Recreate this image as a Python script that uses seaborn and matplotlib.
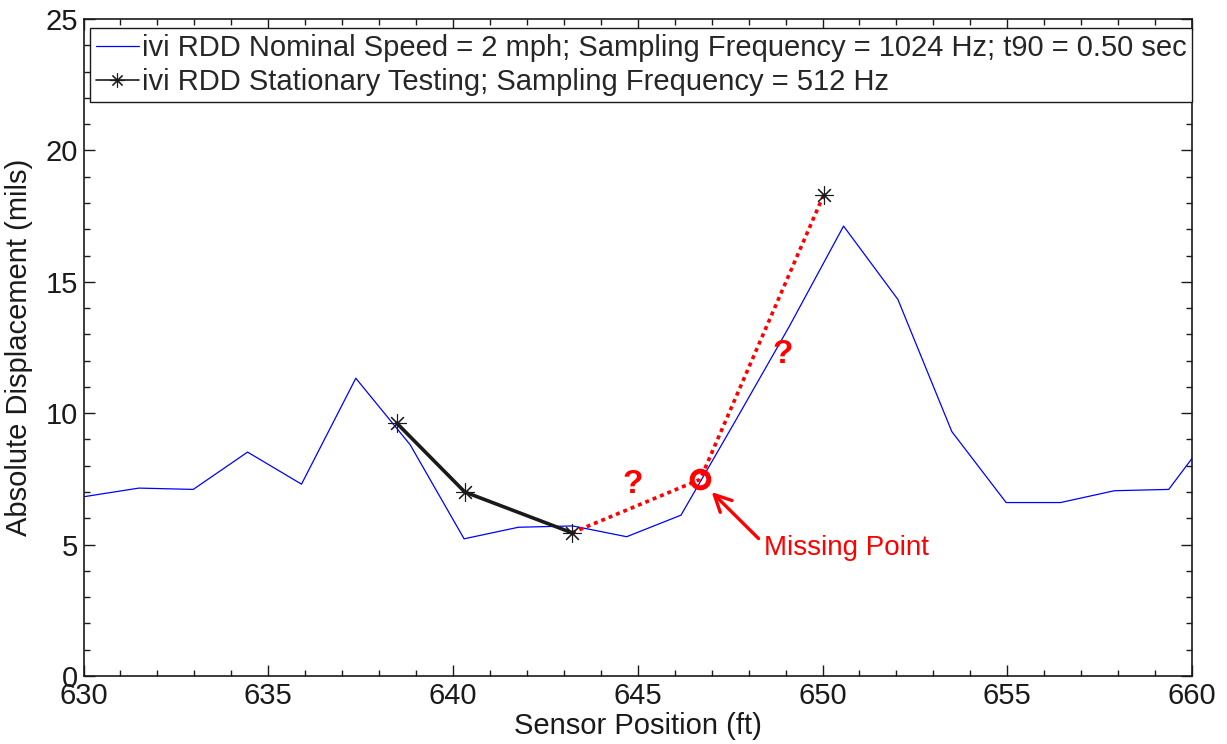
import matplotlib
matplotlib.use('Agg')
import matplotlib.pyplot as plt
import seaborn as sns
from matplotlib.lines import Line2D
from matplotlib.ticker import MultipleLocator

# ---- data ----
rdd_x = [630.0, 631.5, 632.97, 634.44, 635.9, 637.37, 638.84, 640.3, 641.77, 643.24,
         644.7, 646.17, 647.64, 649.1, 650.57, 652.04, 653.5, 654.97, 656.44, 657.9,
         659.37, 660.84]
rdd_y = [6.82, 7.15, 7.1, 8.52, 7.3, 11.33, 8.8, 5.22, 5.66, 5.71,
         5.3, 6.12, 9.7, 13.3, 17.12, 14.33, 9.3, 6.6, 6.6, 7.05,
         7.1, 9.85]
stat_x = [638.48, 640.32, 643.22, 650.03]
stat_y = [9.62, 7.0, 5.45, 18.3]
miss_x = 646.69
miss_y = 7.48

label_rdd = "ivi RDD Nominal Speed = 2 mph; Sampling Frequency = 1024 Hz; t90 = 0.50 sec"
label_stat = "ivi RDD Stationary Testing; Sampling Frequency = 512 Hz"
xticks = [630, 635, 640, 645, 650, 655, 660]
yticks = [0, 5, 10, 15, 20, 25]

sns.set_theme(style='ticks')
plt.rcParams['font.family'] = ['Liberation Sans', 'DejaVu Sans']

W, H = 1227, 744
fig = plt.figure(figsize=(W / 100, H / 100), dpi=100)
ax = fig.add_axes([83.5 / W, 1 - 676 / H, (1192 - 83.5) / W, (676 - 19) / H])

star = (8, 2, 0)
FS = 21

sns.lineplot(x=rdd_x, y=rdd_y, ax=ax, color=(0, 0, 1), lw=0.9, sort=False,
             estimator=None, zorder=2)
sns.lineplot(x=[stat_x[2], miss_x, stat_x[3]], y=[stat_y[2], miss_y, stat_y[3]],
             ax=ax, color=(1, 0, 0), lw=2.6, linestyle=(0, (1.1, 1.1)),
             sort=False, estimator=None, zorder=3)
sns.lineplot(x=stat_x[:3], y=stat_y[:3], ax=ax, color='k', lw=2.6, sort=False,
             estimator=None, marker=star, markersize=13, markeredgecolor='k',
             markeredgewidth=0.8, zorder=4)
sns.lineplot(x=stat_x[3:], y=stat_y[3:], ax=ax, color='k', lw=0, sort=False,
             estimator=None, marker=star, markersize=13, markeredgecolor='k',
             markeredgewidth=0.8, zorder=4)
sns.lineplot(x=[miss_x], y=[miss_y], ax=ax, color=(1, 0, 0), lw=0, sort=False,
             estimator=None, marker='o', markersize=12, markerfacecolor='none',
             markeredgecolor=(1, 0, 0), markeredgewidth=3.6, zorder=5)

# annotations
ax.text(644.87, 7.3, '?', color=(1, 0, 0), fontsize=24, fontweight='bold',
        ha='center', va='center')
ax.text(648.92, 12.25, '?', color=(1, 0, 0), fontsize=24, fontweight='bold',
        ha='center', va='center')
ax.text(648.42, 4.6, 'Missing Point', color=(1, 0, 0), fontsize=20,
        ha='left', va='baseline')
ax.annotate('', xy=(647.0, 7.0), xytext=(648.27, 5.23),
            arrowprops=dict(arrowstyle='->,head_length=0.6,head_width=0.3',
                            color=(1, 0, 0), lw=2.4, mutation_scale=20,
                            shrinkA=0, shrinkB=0))

ax.set_xlim(630, 660)
ax.set_ylim(0, 25)
ax.set_xticks(xticks)
ax.set_yticks(yticks)
ax.xaxis.set_minor_locator(MultipleLocator(1))
ax.yaxis.set_minor_locator(MultipleLocator(1))
ax.tick_params(which='both', direction='in', top=True, right=True,
               colors='k', width=1.0)
ax.tick_params(which='major', length=8, labelsize=FS, pad=4)
ax.tick_params(which='minor', length=4.5)
for s in ax.spines.values():
    s.set_visible(True)
    s.set_color('k')
    s.set_linewidth(1.2)

ax.set_xlabel('Sensor Position (ft)', fontsize=FS, labelpad=1.5, color='k')
ax.set_ylabel('Absolute Displacement (mils)', fontsize=FS, labelpad=9, color='k')

handles = [Line2D([], [], color=(0, 0, 1), lw=0.9),
           Line2D([], [], color='k', lw=1.2, marker=star, markersize=10,
                  markeredgewidth=0.8)]
leg = ax.legend(handles, [label_rdd, label_stat], loc='upper left',
                bbox_to_anchor=(0.0063, 0.986), borderaxespad=0, fontsize=FS,
                handlelength=1.45, handletextpad=0.1, labelspacing=0.2,
                borderpad=0.2, frameon=True, fancybox=False, framealpha=1,
                edgecolor='k')
leg.get_frame().set_linewidth(1.0)

fig.savefig('out.png', dpi=100)
